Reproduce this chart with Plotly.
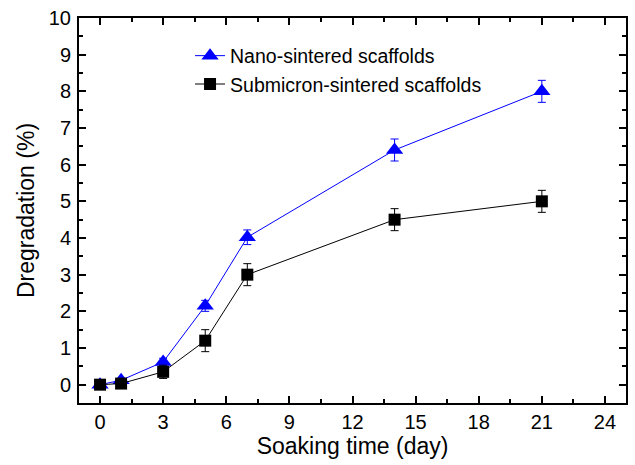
import plotly.graph_objects as go

days = [0, 1, 3, 5, 7, 14, 21]
nano = [0.0, 0.12, 0.62, 2.15, 4.02, 6.4, 8.0]
nano_err = [0.05, 0.05, 0.1, 0.15, 0.2, 0.3, 0.3]
sub = [0.0, 0.03, 0.35, 1.2, 3.0, 4.5, 5.0]
sub_err = [0.05, 0.05, 0.18, 0.3, 0.3, 0.3, 0.3]

fig = go.Figure()
fig.add_trace(go.Scatter(
    x=days, y=nano, mode="lines+markers", name="Nano-sintered scaffolds",
    line=dict(color="#0000ff", width=1),
    marker=dict(symbol="triangle-up", size=15, color="#0000ff"),
    error_y=dict(type="data", array=nano_err, color="#0000ff", thickness=1, width=4),
))
fig.add_trace(go.Scatter(
    x=days, y=sub, mode="lines+markers", name="Submicron-sintered scaffolds",
    line=dict(color="#000000", width=1),
    marker=dict(symbol="square", size=12, color="#000000"),
    error_y=dict(type="data", array=sub_err, color="#000000", thickness=1, width=4),
))

axis_common = dict(
    showline=True, linecolor="black", linewidth=2, mirror="allticks",
    ticks="inside", ticklen=7, tickwidth=2, tickcolor="black",
    showgrid=False, zeroline=False,
    tickfont=dict(size=20, color="black"),
    minor=dict(ticks="inside", ticklen=4, tickwidth=2, tickcolor="black", showgrid=False),
)
fig.update_xaxes(range=[-1, 25], tickmode="array", tickvals=[0, 3, 6, 9, 12, 15, 18, 21, 24],
                 minor_dtick=1.5, minor_tick0=0, ticklabelstandoff=0,
                 title=dict(text="Soaking time (day)", font=dict(size=23, color="black"), standoff=2),
                 **axis_common)
fig.update_yaxes(range=[-0.5, 10], tickmode="array", tickvals=list(range(0, 11)),
                 minor_dtick=0.5, minor_tick0=0, ticklabelstandoff=2,
                 title=dict(text="Dregradation (%)", font=dict(size=23, color="black"), standoff=8),
                 **axis_common)
fig.update_layout(
    width=635, height=465,
    margin=dict(l=79, r=7, t=13, b=62),
    plot_bgcolor="white", paper_bgcolor="white",
    font=dict(family="Liberation Sans, Arial, sans-serif", color="black"),
    showlegend=True,
    legend=dict(x=0.203, y=0.952, xanchor="left", yanchor="top",
                bgcolor="rgba(0,0,0,0)", font=dict(size=19.5, color="black")),
)
fig.write_html("out.html")
